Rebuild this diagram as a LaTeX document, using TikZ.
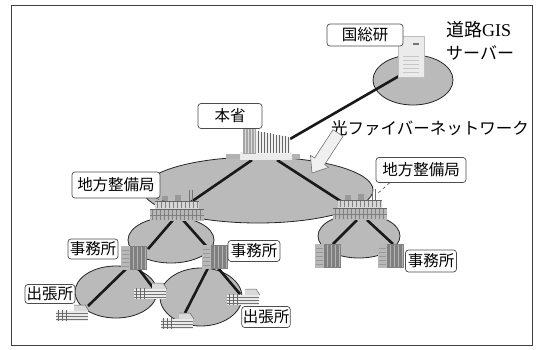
\documentclass[tikz,border=0pt]{standalone}
\usepackage{fontspec}
\setmainfont{Noto Sans CJK JP}
\newfontfamily\latinserif{Liberation Serif}
\usepackage{tikz}
\usetikzlibrary{positioning, calc}

\begin{document}
\begin{tikzpicture}[
    x=1pt, y=-1pt,
    net/.style={draw=black!85, fill=black!27, line width=0.8pt},
    link/.style={line width=2.6pt, black!90},
    tag/.style={rectangle, rounded corners=3pt, draw=black!70, fill=white, line width=0.7pt, inner sep=1pt, font=\fontsize{15.5}{16}\selectfont},
    caption/.style={inner sep=0pt, font=\fontsize{17}{18}\selectfont},
    bureau/.pic={
        \fill[black!28] (-27,2) rectangle (27,14);
        \fill[black!16] (-22,-6) rectangle (22,2);
        \foreach \i in {-25,-21,...,25} \draw[black!50, line width=0.4pt] (\i,3) -- (\i,13);
        \draw[black!50, line width=0.4pt] (-27,8) -- (27,8);
        \foreach \i in {-20,-16,...,20} \draw[black!50, line width=0.4pt] (\i,-5) -- (\i,1);
        \draw[black!60, line width=0.5pt] (-27,2) -- (27,2) (-22,-6) -- (22,-6);
        \fill[black!40] (-15,-11) rectangle (-9,-6);
        \fill[black!40] (-2,-12) rectangle (4,-6);
        \draw[black!55, line width=0.6pt] (12,-17) -- (12,-6) (15,-17) -- (15,-6);
    },
    office/.pic={
        \fill[black!50] (-13,-12) rectangle (13,12);
        \fill[black!28] (-13,-12) rectangle (-4,12);
        \foreach \i in {-1,3,...,11} \draw[black!30, line width=0.5pt] (\i,-11) -- (\i,11);
        \foreach \j in {-8,-4,...,10} \draw[black!40, line width=0.4pt] (-12,\j) -- (-5,\j);
    },
    branch/.pic={
        \fill[black!8] (-16,-3) rectangle (16,7);
        \fill[black!15] (2,-9) -- (13,-9) -- (17,-3) -- (2,-3) -- cycle;
        \draw[black!60, line width=0.5pt] (2,-9) -- (13,-9) -- (17,-3);
        \foreach \j in {-1,2,5} \draw[black!55, line width=0.5pt] (-16,\j) -- (16,\j);
        \foreach \i in {-14,-10,-6} \draw[black!60, line width=0.6pt] (\i,-4) -- (\i,7);
    }
]
    \useasboundingbox (0,0) rectangle (539,349);
    \draw[black!75, line width=1pt] (11,5) rectangle (532,345);

    % --- networks ---
    \draw[net] (413,80) ellipse [x radius=40, y radius=25];
    \draw[net] (258,190) ellipse [x radius=115, y radius=33];
    \draw[net] (171,240) ellipse [x radius=43, y radius=23];
    \draw[net] (359,236) ellipse [x radius=41, y radius=22];
    \draw[net] (116,292) ellipse [x radius=41, y radius=26];
    \draw[net] (201,297) ellipse [x radius=41, y radius=29];

    % --- link end points ---
    \coordinate (srv) at (406,72);
    \coordinate (hqNE) at (290,139);
    \coordinate (hqW) at (252,160);
    \coordinate (hqE) at (277,160);
    \coordinate (bureauLin) at (191,202);
    \coordinate (bureauRin) at (342,202);
    \coordinate (bureauLa) at (173,220);
    \coordinate (bureauLb) at (183,220);
    \coordinate (bureauRa) at (357,220);
    \coordinate (bureauRb) at (367,220);
    \coordinate (officeLin) at (148,249);
    \coordinate (officeMin) at (207,247);
    \coordinate (officeRAin) at (333,244);
    \coordinate (officeRBin) at (393,244);
    \coordinate (officeLa) at (127,268);
    \coordinate (officeLb) at (138,268);
    \coordinate (officeMa) at (208,268);
    \coordinate (officeMb) at (218,268);
    \coordinate (branchA) at (88,306);
    \coordinate (branchB) at (154,289);
    \coordinate (branchC) at (185,313);
    \coordinate (branchD) at (240,294);

    % --- fibre links ---
    \draw[link] (srv) -- (hqNE);
    \draw[link] (hqW) -- (bureauLin);
    \draw[link] (hqE) -- (bureauRin);
    \draw[link] (bureauLa) -- (officeLin);
    \draw[link] (bureauLb) -- (officeMin);
    \draw[link] (bureauRa) -- (officeRAin);
    \draw[link] (bureauRb) -- (officeRBin);
    \draw[link] (officeLa) -- (branchA);
    \draw[link] (officeLb) -- (branchB);
    \draw[link] (officeMa) -- (branchC);
    \draw[link] (officeMb) -- (branchD);

    % --- server ---
    \fill[black!8] (398,36) rectangle (424,77);
    \draw[black!25, line width=0.5pt] (398,36) rectangle (424,77);
    \fill[black!55] (413,43) rectangle (419,45);
    \foreach \j in {56,60,...,72} \draw[black!22, line width=0.5pt] (403,\j) -- (419,\j);

    % --- head office building ---
    \fill[black!30] (226,154) rectangle (300,159);
    \fill[black!8] (240,152) rectangle (292,160);
    \fill[black!35] (243,128) rectangle (256,154);
    \foreach \i in {245,248,...,254} \draw[black!15, line width=0.6pt] (\i,129) -- (\i,153);
    \fill[black!6] (256,131) -- (290,137) -- (290,154) -- (256,154) -- cycle;
    \foreach \i in {258,261,...,288} \draw[black!60, line width=0.7pt] (\i,{131+(\i-256)*6/34}) -- (\i,153);

    % --- bureaus, offices, branches ---
    \pic at (177,207) {bureau};
    \pic at (360,206) {bureau};
    \pic at (134,258) {office};
    \pic at (215,257) {office};
    \pic at (328,256) {office};
    \pic at (391,256) {office};
    \pic at (72,314) {branch};
    \pic at (150,292) {branch};
    \pic at (177,322) {branch};
    \pic at (243,298) {branch};

    % --- labels ---
    \node (tagKSK) [tag, minimum width=76pt, minimum height=22pt] at (365,35) {国総研};
    \node (tagHQ) [tag, minimum width=64pt, minimum height=25pt] at (230,116) {本省};
    \node (tagBureauL) [tag, minimum width=88pt, minimum height=26pt] at (116,185) {地方整備局};
    \node (tagBureauR) [tag, minimum width=90pt, minimum height=25pt] at (421,170) {地方整備局};
    \node (tagOfficeL) [tag, minimum width=50pt, minimum height=20pt] at (93,249) {事務所};
    \node (tagOfficeM) [tag, minimum width=52pt, minimum height=21pt] at (254,251) {事務所};
    \node (tagOfficeR) [tag, minimum width=51pt, minimum height=22pt] at (431,261) {事務所};
    \node (tagBranchL) [tag, minimum width=50pt, minimum height=19pt] at (50,294) {出張所};
    \node (tagBranchR) [tag, minimum width=48pt, minimum height=21pt] at (266,317) {出張所};

    % pointers to the bureau buildings
    \coordinate (bureauLtop) at (166,202);
    \coordinate (bureauRtop) at (377,194);
    \draw[black!70, dashed, line width=0.6pt] (tagBureauL.south east) ++(-4,0) -- (bureauLtop);
    \draw[black!70, dashed, line width=0.6pt] (tagBureauR.south west) ++(14,0) -- (bureauRtop);

    \node (gisName) [caption, anchor=west, font=\fontsize{18}{18}\selectfont] at (446,30) {道路{\latinserif GIS}};
    \node (gisServer) [caption, anchor=west] at (446,53) {サーバー};
    \node (fibre) [caption, anchor=west, font=\fontsize{16.5}{18}\selectfont] at (331,128) {光ファイバーネットワーク};

    % block arrow onto the network
    \draw[black!55, fill=black!6, line width=0.6pt, line join=round]
        (343.0,136.3) -- (324.6,164.6) -- (328.8,167.3) -- (312,173)
        -- (310.4,155.3) -- (314.6,158.0) -- (333.0,129.7) -- cycle;
\end{tikzpicture}
\end{document}
